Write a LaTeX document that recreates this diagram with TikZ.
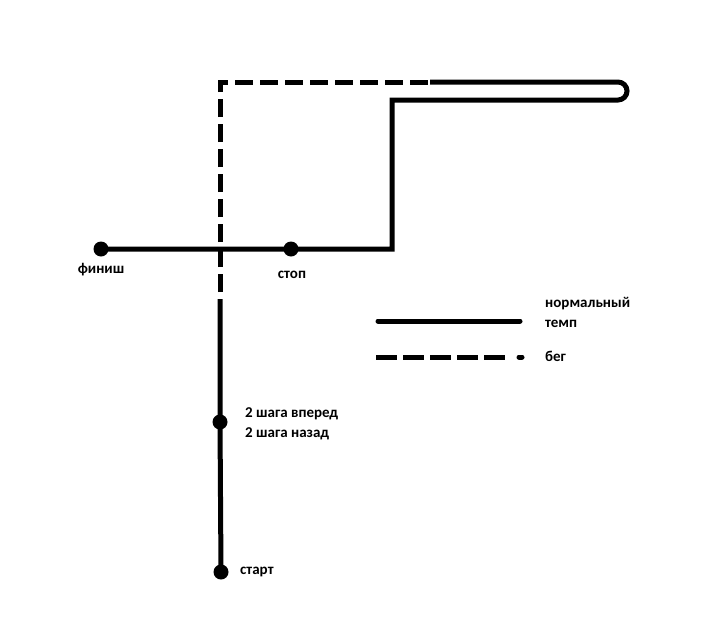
\documentclass[tikz,border=0pt]{standalone}
\usepackage{fontspec}
\setsansfont{Carlito}
\begin{document}
\begin{tikzpicture}[x=1pt,y=-1pt,
  track/.style={line width=5pt},
  runline/.style={line width=5pt,dash pattern=on 18pt off 7pt,dash phase=18pt},
  dot/.style={circle,fill=black,inner sep=0pt,minimum size=15pt},
  lbl/.style={font=\fontsize{15}{20}\selectfont\sffamily\bfseries,inner sep=0pt}]
\useasboundingbox (0,0) rectangle (701,624);
% points
\node[dot] (finish) at (101,249) {};
\node[dot] (stop) at (291,249) {};
\node[dot] (steps) at (220,422) {};
\node[dot] (start) at (221,572) {};
\coordinate (turn) at (220,299);
\coordinate (tl) at (220,82);
\coordinate (tm) at (430,82);
\coordinate (tr) at (618,82);
\coordinate (br) at (618,100);
\coordinate (bl) at (392,100);
\coordinate (cr) at (392,249);
% route
\draw[track] (start.center) -- (steps.center) -- (turn);
\draw[runline] (turn) -- (tl) -- (tm);
\draw[track] (tm) -- (tr) arc[start angle=-90,end angle=90,radius=9] -- (bl) -- (cr) -- (stop.center) -- (finish.center);
% labels
\node[lbl] (lfinish) at (101,270) {финиш};
\node[lbl] (lstop) at (292,275) {стоп};
\node[lbl,anchor=west,align=left] (lsteps) at (245,424) {2 шага вперед\\2 шага назад};
\node[lbl,anchor=west] (lstart) at (240,572) {старт};
% legend
\coordinate (s1) at (378,321);
\coordinate (s2) at (520,321);
\draw[line width=5pt,line cap=round] (s1) -- (s2);
\coordinate (d1) at (376,357);
\coordinate (d2) at (506,357);
\coordinate (d3) at (519,357);
\coordinate (d4) at (522,357);
\draw[line width=5pt,dash pattern=on 21pt off 6pt] (d1) -- (d2);
\draw[line width=5pt,line cap=round] (d3) -- (d4);
\node[lbl,anchor=west,align=left] (lnorm) at (545,312) {нормальный\\темп};
\node[lbl,anchor=west] (lrun) at (545,356) {бег};
\end{tikzpicture}
\end{document}
